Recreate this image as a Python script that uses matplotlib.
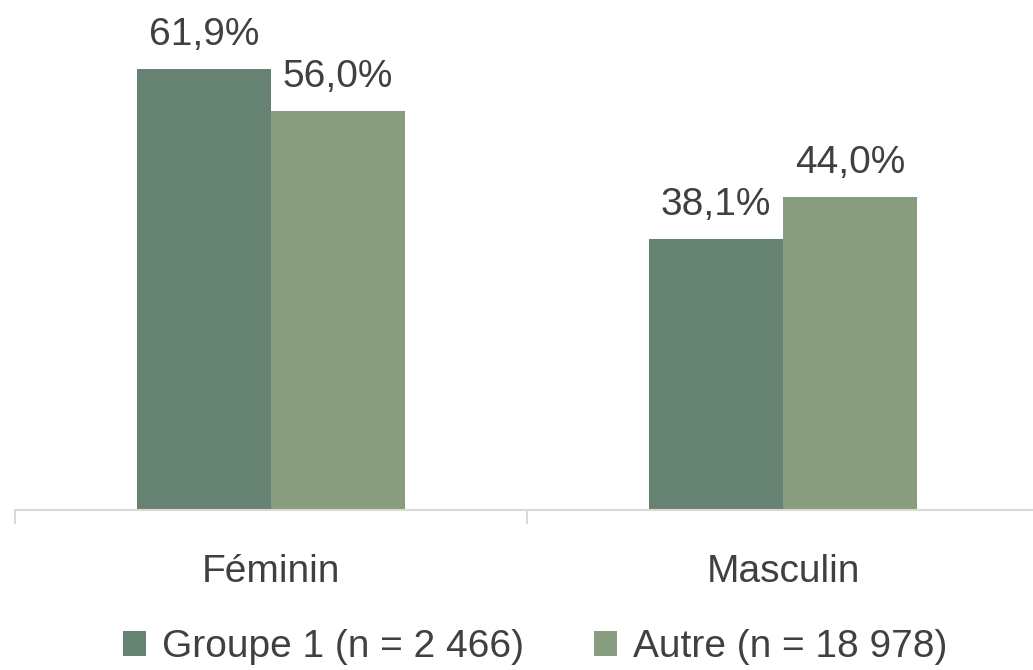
#!/usr/bin/env python3

import matplotlib.pyplot as plt
import numpy as np
from matplotlib import font_manager

CATEGORIES = ["Féminin", "Masculin"]
SERIES     = ["Groupe 1 (n = 2 466)", "Autre (n = 18 978)"]
GROUPE_1   = [61.9, 38.1]
AUTRE      = [56.0, 44.0]

COLORS     = ["#668272", "#879d7d"]
TEXT_COLOR = "#404040"

names = {f.name for f in font_manager.fontManager.ttflist}
FONT = "Liberation Sans Narrow" if "Liberation Sans Narrow" in names else "Liberation Sans"
plt.rcParams['font.family'] = [FONT, 'DejaVu Sans']
FS = 28


def main():
    fig = plt.figure(figsize=(10.33, 6.70), dpi=100)
    W, H = 1033, 670
    # axes: x from -0.5 (px 15) to 1.5 (px 1039), y 0 at px 510, 7.125 px per unit
    ylim = 70
    ax = fig.add_axes([15 / W, 160 / H, 1024 / W, ylim * 7.125 / H])

    x = np.arange(len(CATEGORIES))
    width = 0.262
    for i, (vals, color) in enumerate(zip([GROUPE_1, AUTRE], COLORS)):
        pos = x + (i - 0.5) * width
        bars = ax.bar(pos, vals, width, color=color, label=SERIES[i], zorder=2)
        for b, v in zip(bars, vals):
            ax.text(b.get_x() + b.get_width() / 2, v + 2.2,
                    f"{v:.1f}%".replace('.', ','),
                    ha='center', va='bottom', fontsize=FS, color=TEXT_COLOR)

    ax.set_xlim(-0.5, 1.5)
    ax.set_ylim(0, ylim)
    ax.set_yticks([])
    for s in ('top', 'right', 'left'):
        ax.spines[s].set_visible(False)
    ax.spines['bottom'].set_color('#d9d9d9')
    ax.spines['bottom'].set_linewidth(1.5)

    ax.set_xticks([-0.5, 0.5, 1.5])
    ax.set_xticklabels([])
    ax.tick_params(axis='x', length=10, width=1.5, color='#d9d9d9')
    for xi, cat in zip(x, CATEGORIES):
        ax.text(xi, -8.7, cat, ha='center', va='center', fontsize=FS,
                color=TEXT_COLOR, clip_on=False)

    handles, labels = ax.get_legend_handles_labels()
    fig.legend(handles, labels, loc='center', bbox_to_anchor=(535 / W, 1 - 647 / H),
               ncol=2, frameon=False, fontsize=FS, handlelength=0.6, handleheight=0.6,
               handletextpad=0.4, columnspacing=1.8, labelcolor=TEXT_COLOR)

    fig.savefig("out.png", dpi=100)


main()
